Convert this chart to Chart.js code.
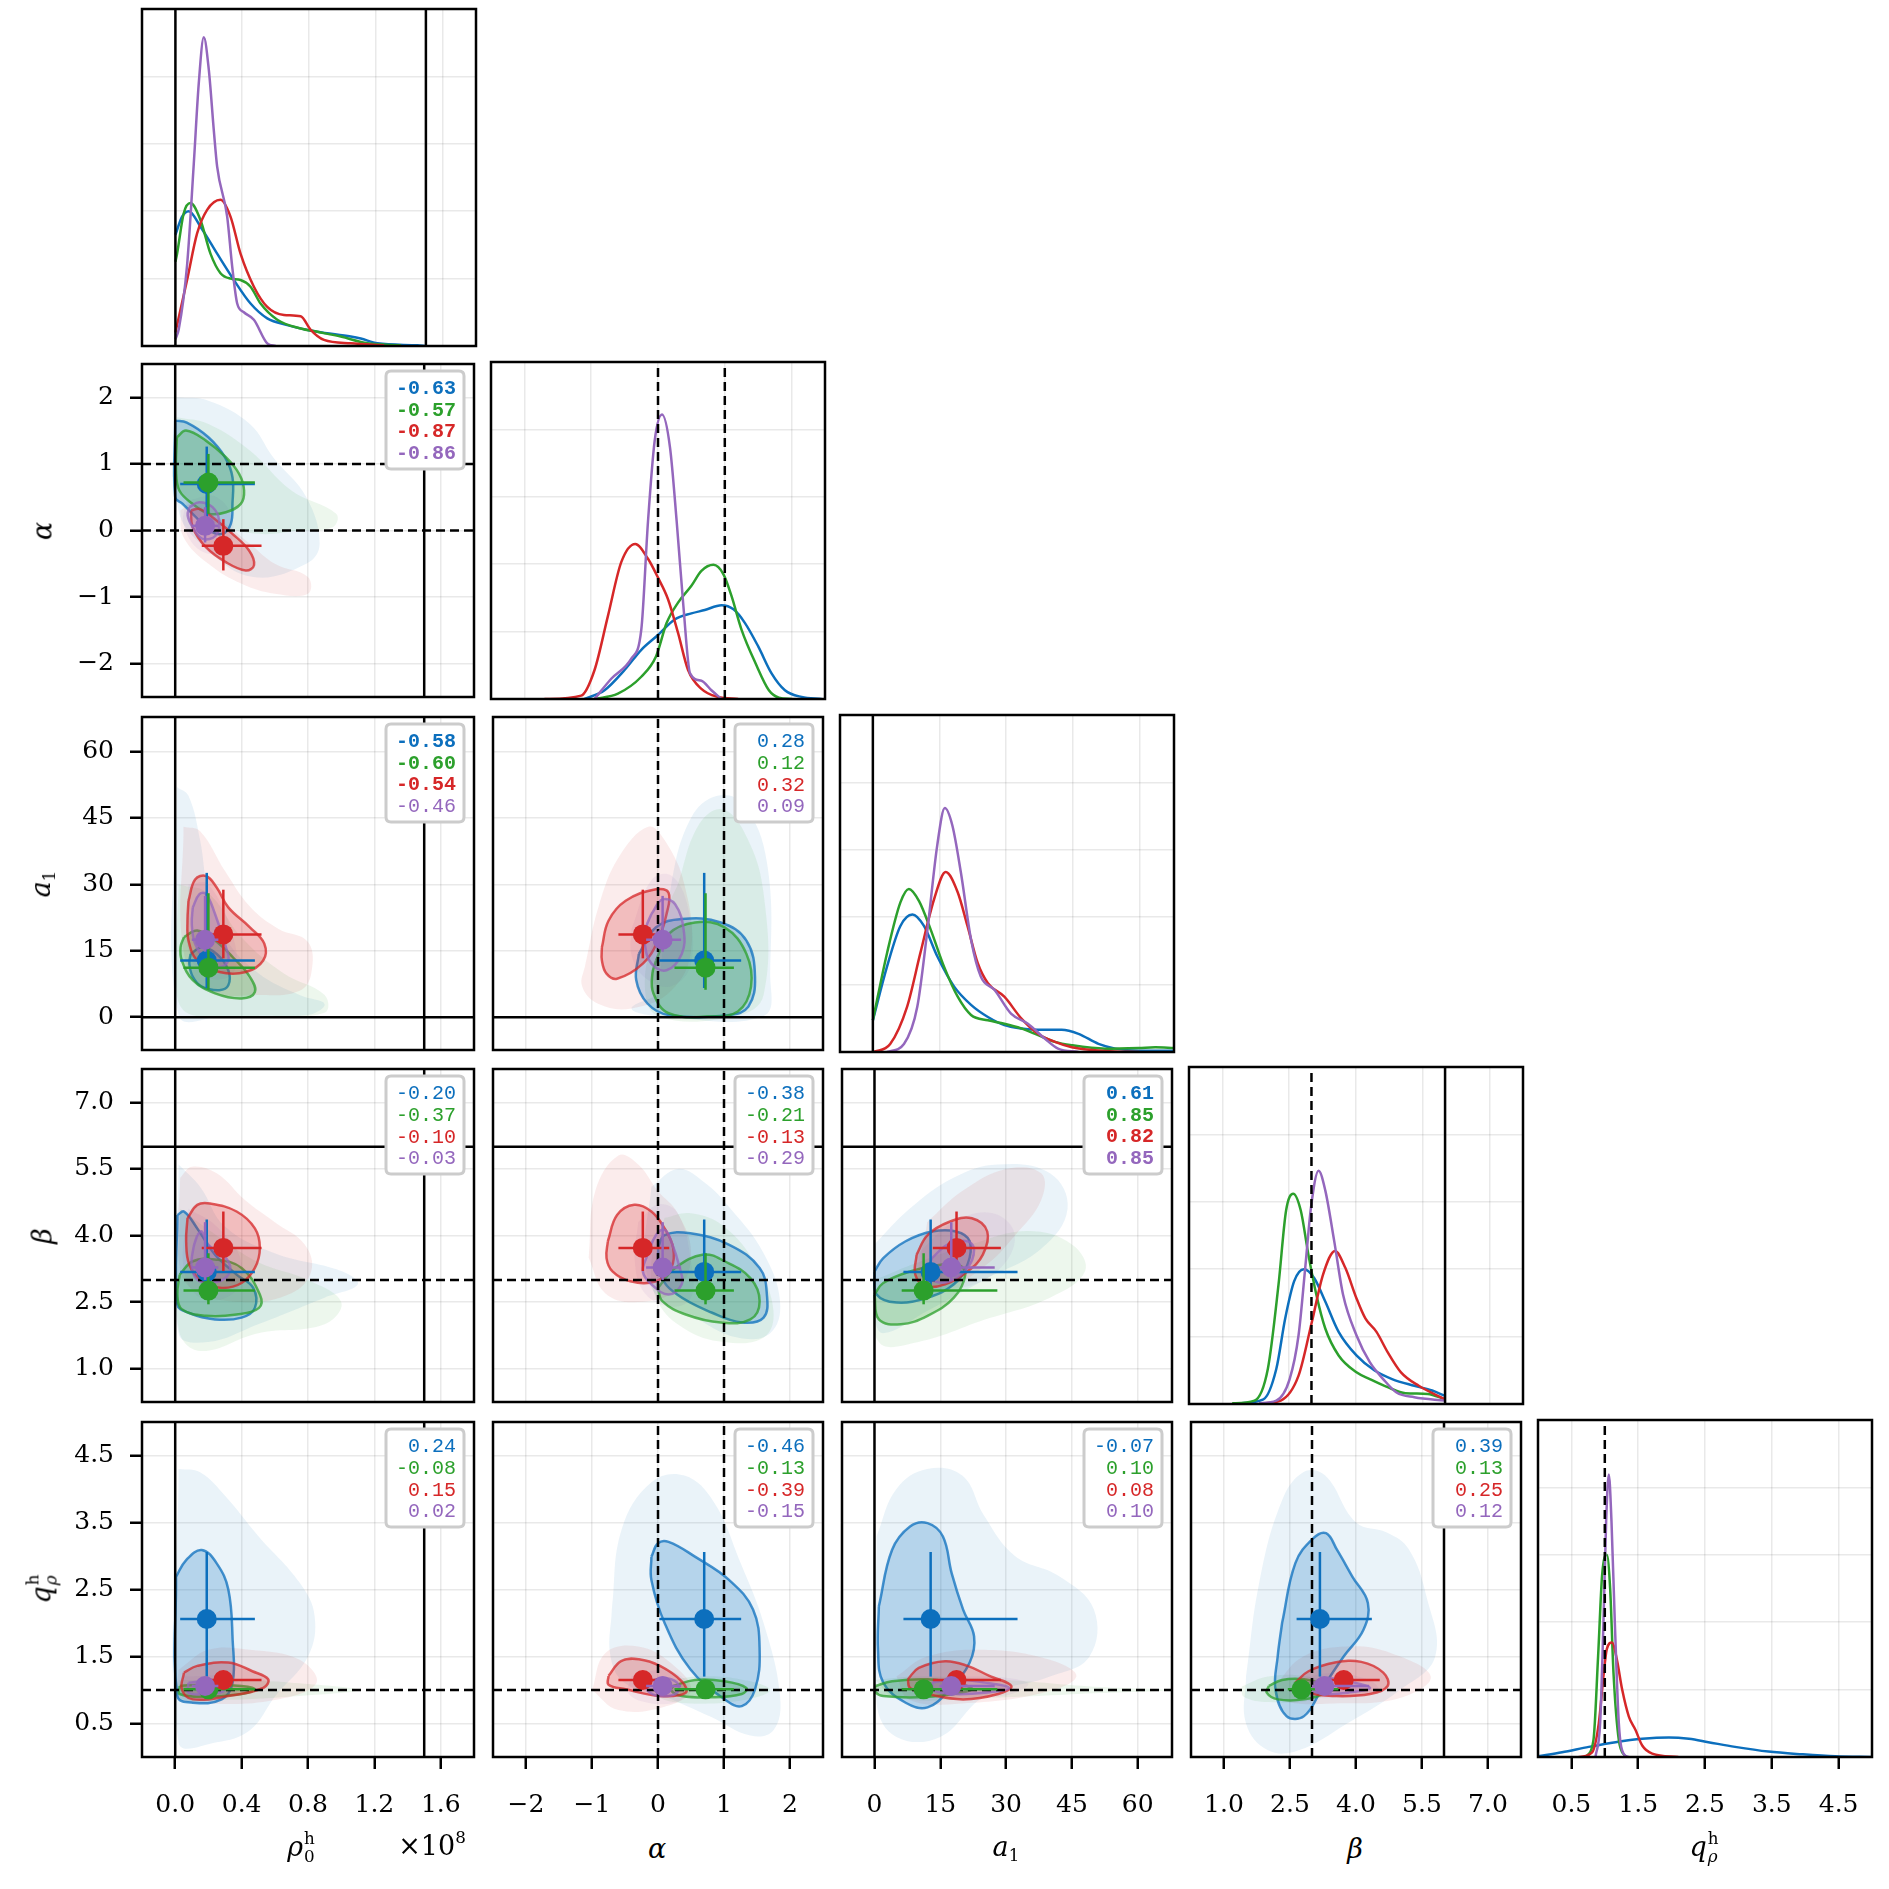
<!DOCTYPE html>
<html>
<head>
<meta charset="utf-8">
<script src="https://cdn.jsdelivr.net/npm/chart.js@4.4.1/dist/chart.umd.min.js"></script>
<style>
  body { margin: 0; background: #fff; }
  #fig { position: relative; width: 1889px; height: 1889px; overflow: hidden; background: #fff; }
  #fig canvas { position: absolute; }
  .lab { position: absolute; font-family: 'DejaVu Serif', serif; font-size: 27px; white-space: nowrap;
         transform: translate(-50%, -50%); color: #000; }
  .ylab { transform: translate(-50%, -50%) rotate(-90deg); }
  .lab sub { font-size: 0.62em; vertical-align: -0.3em; font-style: normal; }
  .lab sup { font-size: 0.62em; vertical-align: 0.7em; }
  .ss { display: inline-flex; flex-direction: column; font-size: 0.62em; line-height: 1.05;
        vertical-align: 0.72em; margin-left: 1px; font-style: normal; }
</style>
</head>
<body>
<div id="fig"></div>
<script>
// ---- data ----
// series order everywhere: blue, green, red, purple
const colors = ['#0c6fbd', '#2ca02c', '#d62728', '#9467bd'];

// parameters: rho0 (x1e8), alpha, a1, beta, q_rho
const axisMin = [-0.2, -2.5, -7.4, 0.25, 0];
const axisMax = [1.8, 2.5, 67.8, 7.75, 5];
const tickVals = [[0, 0.4, 0.8, 1.2, 1.6], [-2, -1, 0, 1, 2], [0, 15, 30, 45, 60], [1, 2.5, 4, 5.5, 7], [0.5, 1.5, 2.5, 3.5, 4.5]];
const tickLabels = [['0.0', '0.4', '0.8', '1.2', '1.6'], ['\u22122', '\u22121', '0', '1', '2'], ['0', '15', '30', '45', '60'],
  ['1.0', '2.5', '4.0', '5.5', '7.0'], ['0.5', '1.5', '2.5', '3.5', '4.5']];
const solidRefs = [[0, 1.5], [], [0], [6], []];
const dashedRefs = [[], [0, 1], [], [3], [1]];

// medians and error bar ends
const medRho = [0.19, 0.20, 0.29, 0.18];
const loRho = [0.03, 0.05, 0.16, 0.10];
const hiRho = [0.48, 0.48, 0.52, 0.26];
const medAlpha = [0.70, 0.72, -0.23, 0.07];
const loAlpha = [0.02, 0.25, -0.60, -0.18];
const hiAlpha = [1.26, 1.15, 0.17, 0.35];
const medA1 = [12.8, 11.2, 18.7, 17.5];
const loA1 = [6.6, 6.2, 13.3, 14.8];
const hiA1 = [32.6, 28.0, 28.8, 27.4];
const medBeta = [3.18, 2.76, 3.72, 3.28];
const loBeta = [2.65, 2.45, 3.2, 3.0];
const hiBeta = [4.36, 3.6, 4.54, 4.3];
const medQ = [2.06, 1.01, 1.15, 1.06];
const loQ = [1.2, 0.96, 1.02, 1.0];
const hiQ = [3.06, 1.07, 1.28, 1.12];

// 1d densities on the diagonal
const kdeRho = [
  [[0, 1.65], [0.04, 1.92], [0.08, 2.0], [0.15, 1.77], [0.25, 1.37], [0.35, 0.98], [0.45, 0.63], [0.55, 0.41], [0.67, 0.31], [0.85, 0.21], [1.05, 0.14], [1.11, 0.11], [1.21, 0.04], [1.45, 0.01], [1.5, 0]],
  [[0, 1.25], [0.01, 1.37], [0.05, 1.97], [0.09, 2.12], [0.15, 1.87], [0.21, 1.37], [0.27, 1.08], [0.33, 1.0], [0.39, 0.98], [0.45, 0.88], [0.51, 0.63], [0.61, 0.39], [0.75, 0.26], [0.85, 0.21], [0.99, 0.14], [1.15, 0.04], [1.35, 0.01]],
  [[0, 0.2], [0.07, 0.98], [0.13, 1.67], [0.19, 2.02], [0.27, 2.17], [0.33, 1.92], [0.39, 1.37], [0.47, 0.88], [0.55, 0.58], [0.65, 0.46], [0.75, 0.44], [0.81, 0.24], [0.89, 0.09], [1.05, 0.04], [1.25, 0.01]],
  [[0, 0.1], [0.02, 0.25], [0.07, 1.2], [0.11, 2.7], [0.14, 3.9], [0.17, 4.58], [0.2, 4.1], [0.23, 3.2], [0.25, 2.66], [0.31, 1.92], [0.34, 1.18], [0.37, 0.63], [0.41, 0.5], [0.47, 0.39], [0.55, 0.04], [0.6, 0]]
];
const kdeAlpha = [
  [[-1.1, 0], [-0.8, 0.13], [-0.5, 0.43], [-0.25, 0.73], [0, 0.95], [0.25, 1.18], [0.5, 1.27], [0.7, 1.32], [0.95, 1.39], [1.13, 1.33], [1.3, 1.13], [1.5, 0.78], [1.7, 0.38], [1.9, 0.13], [2.15, 0.03], [2.45, 0]],
  [[-0.95, 0], [-0.6, 0.08], [-0.25, 0.33], [-0.03, 0.63], [0.13, 1.13], [0.3, 1.43], [0.5, 1.68], [0.65, 1.9], [0.83, 1.99], [0.98, 1.85], [1.1, 1.53], [1.25, 1.03], [1.46, 0.53], [1.66, 0.13], [1.81, 0.02], [2.0, 0]],
  [[-1.7, 0], [-1.15, 0.05], [-0.95, 0.43], [-0.75, 1.23], [-0.55, 2.03], [-0.34, 2.3], [-0.15, 2.08], [0, 1.8], [0.15, 1.48], [0.3, 0.98], [0.45, 0.43], [0.65, 0.15], [0.9, 0.03], [1.2, 0]],
  [[-0.95, 0], [-0.7, 0.3], [-0.4, 0.6], [-0.25, 1.03], [-0.15, 2.63], [-0.05, 3.83], [0.06, 4.22], [0.18, 3.73], [0.28, 2.63], [0.38, 1.38], [0.48, 0.38], [0.65, 0.27], [0.8, 0.13], [0.95, 0]]
];
const kdeA1 = [
  [[0, 0.47], [3.2, 1.27], [6.2, 1.87], [8.9, 2.04], [11.5, 1.87], [14.5, 1.42], [18.3, 0.97], [22.1, 0.7], [25.9, 0.52], [29.6, 0.4], [33.4, 0.35], [37.2, 0.33], [42.5, 0.33], [46.3, 0.27], [50.8, 0.12], [54.6, 0.05], [60, 0.02], [67.8, 0.02]],
  [[0, 0.47], [3.2, 1.47], [6.2, 2.22], [8.1, 2.42], [10.4, 2.24], [13, 1.82], [16, 1.27], [19.1, 0.82], [22.1, 0.55], [25.9, 0.47], [29.6, 0.42], [33.4, 0.35], [37.2, 0.25], [41, 0.15], [44.8, 0.1], [52.3, 0.05], [59.9, 0.06], [63.6, 0.07], [67.8, 0.06]],
  [[0.1, 0], [3.9, 0.12], [7.7, 0.67], [10.7, 1.47], [13.8, 2.27], [16.4, 2.67], [19.1, 2.37], [21.3, 1.87], [23.6, 1.32], [25.9, 1.02], [29.6, 0.82], [33.4, 0.5], [37.2, 0.27], [41, 0.15], [44.8, 0.07], [52.3, 0.015], [60, 0]],
  [[3.2, 0], [7, 0.12], [10, 0.67], [12.3, 1.82], [14.5, 3.07], [16.2, 3.62], [17.9, 3.36], [19.8, 2.67], [22.1, 1.67], [24.3, 1.12], [27.4, 0.92], [31.1, 0.57], [34.9, 0.42], [38.7, 0.2], [41.7, 0.05], [46.3, 0]]
];
const kdeBeta = [
  [[1.32, 0.01], [1.92, 0.07], [2.21, 0.52], [2.41, 1.27], [2.61, 1.82], [2.83, 2.0], [3.06, 1.87], [3.31, 1.52], [3.61, 1.07], [4.01, 0.72], [4.41, 0.5], [4.81, 0.37], [5.31, 0.27], [5.71, 0.2], [6.0, 0.12]],
  [[1.22, 0.01], [1.72, 0.05], [2.02, 0.52], [2.26, 1.77], [2.43, 2.87], [2.59, 3.12], [2.76, 2.87], [2.93, 2.22], [3.11, 1.62], [3.31, 1.12], [3.61, 0.72], [4.01, 0.47], [4.31, 0.37], [4.71, 0.25], [5.11, 0.16], [5.61, 0.15], [6.0, 0.07]],
  [[1.92, 0.01], [2.31, 0.05], [2.71, 0.42], [3.01, 1.22], [3.26, 1.92], [3.53, 2.27], [3.76, 2.02], [4.01, 1.57], [4.21, 1.27], [4.46, 1.07], [4.71, 0.77], [5.01, 0.47], [5.41, 0.27], [6.0, 0.07]],
  [[1.82, 0.01], [2.21, 0.05], [2.51, 0.37], [2.71, 1.02], [2.86, 2.02], [2.99, 2.92], [3.16, 3.46], [3.31, 3.17], [3.51, 2.42], [3.71, 1.62], [4.01, 1.02], [4.31, 0.62], [4.61, 0.37], [4.91, 0.17], [5.31, 0.1], [6.0, 0.05]]
];
const kdeQ = [
  [[0, 0.01], [0.36, 0.07], [0.76, 0.15], [1.16, 0.22], [1.56, 0.27], [1.96, 0.29], [2.26, 0.27], [2.55, 0.22], [2.95, 0.15], [3.45, 0.08], [3.95, 0.04], [4.45, 0.01], [5, 0]],
  [[0.71, 0], [0.83, 0.25], [0.9, 1.5], [0.96, 2.7], [1.03, 3.0], [1.08, 2.5], [1.13, 1.25], [1.21, 0.25], [1.31, 0]],
  [[0.61, 0], [0.81, 0.07], [0.91, 0.5], [0.98, 1.2], [1.03, 1.6], [1.11, 1.7], [1.18, 1.45], [1.26, 1.0], [1.36, 0.6], [1.46, 0.4], [1.56, 0.17], [1.71, 0.05], [2.1, 0]],
  [[0.86, 0], [0.93, 0.5], [0.98, 2.0], [1.02, 3.5], [1.06, 4.19], [1.1, 3.5], [1.15, 2.0], [1.21, 0.5], [1.28, 0.05], [1.36, 0]]
];

// 2d contours: inner level (outlined) and faint outer level, per panel (row param vs column param)
const inner10 = [
  [[0, 1.65], [0.07, 1.62], [0.2, 1.4], [0.3, 1.1], [0.345, 0.8], [0.345, 0.4], [0.335, 0.1], [0.285, -0.05], [0.205, 0], [0.125, 0.2], [0.045, 0.4], [0, 0.5]],
  [[0.01, 1.4], [0.065, 1.5], [0.185, 1.35], [0.305, 1.1], [0.385, 0.85], [0.415, 0.6], [0.395, 0.4], [0.305, 0.275], [0.205, 0.25], [0.105, 0.4], [0.025, 0.6], [0.005, 0.9]],
  [[0.095, 0.3], [0.145, 0.325], [0.225, 0.2], [0.345, -0.05], [0.445, -0.3], [0.475, -0.52], [0.425, -0.6], [0.305, -0.475], [0.185, -0.25], [0.105, 0.05]],
  [[0.085, 0.35], [0.145, 0.425], [0.225, 0.35], [0.265, 0.15], [0.245, -0.075], [0.165, -0.125], [0.105, 0.05], [0.075, 0.225]]
];
const outer10 = [
  [[0.01, 2.0], [0.2, 1.95], [0.45, 1.6], [0.59, 1.1], [0.79, 0.5], [0.87, -0.2], [0.79, -0.5], [0.47, -0.7], [0.2, -0.3], [0.02, 0.3]],
  [[0.01, 1.7], [0.2, 1.6], [0.45, 1.2], [0.7, 0.6], [0.97, 0.25], [0.95, 0.05], [0.75, 0.0], [0.5, -0.05], [0.25, 0.1], [0.01, 0.5]],
  [[0.03, 0.3], [0.1, 0.4], [0.25, 0.2], [0.45, -0.2], [0.6, -0.5], [0.8, -0.7], [0.8, -0.95], [0.6, -0.95], [0.4, -0.8], [0.2, -0.5], [0.05, -0.1]],
  [[0.07, 0.45], [0.25, 0.5], [0.35, 0.1], [0.3, -0.3], [0.15, -0.3], [0.05, 0.1]]
];
const inner20 = [
  [[0.093, 14.3], [0.16, 15.8], [0.25, 14.3], [0.32, 10.6], [0.32, 7.2], [0.266, 6.1], [0.16, 6.9], [0.106, 9.1], [0.085, 12.1]],
  [[0.053, 18.1], [0.133, 19.6], [0.24, 17.3], [0.346, 13.6], [0.45, 9.1], [0.48, 5.7], [0.4, 4.25], [0.24, 5.4], [0.106, 8.4], [0.04, 12.8], [0.032, 15.8]],
  [[0.08, 26.3], [0.12, 31.1], [0.186, 31.9], [0.25, 29.3], [0.32, 24.8], [0.45, 20.3], [0.537, 16.6], [0.53, 12.8], [0.425, 10.2], [0.266, 10.2], [0.133, 12.8], [0.08, 17.3], [0.074, 21.8]],
  [[0.106, 24.8], [0.146, 27.8], [0.186, 27.8], [0.24, 23.3], [0.306, 15.8], [0.32, 12.8], [0.266, 11.3], [0.186, 12.8], [0.12, 16.6], [0.1, 21.0]]
];
const outer20 = [
  [[0.01, 52], [0.08, 50], [0.15, 40], [0.2, 28], [0.3, 18], [0.5, 10], [0.75, 5], [0.9, 3], [0.8, 0.5], [0.3, 0.3], [0.02, 0.5]],
  [[0.02, 30], [0.2, 28], [0.4, 18], [0.65, 10], [0.9, 5], [0.9, 1], [0.5, 0.3], [0.1, 0.5], [0.01, 5]],
  [[0.05, 43], [0.15, 42], [0.3, 33], [0.45, 25], [0.62, 20], [0.8, 17], [0.82, 10], [0.75, 6], [0.5, 5], [0.2, 6], [0.05, 15]],
  [[0.08, 30], [0.2, 30], [0.35, 18], [0.35, 10], [0.2, 9], [0.08, 15]]
];
const inner21 = [
  [[-0.29, 14.3], [-0.03, 20.3], [0.36, 22.2], [0.95, 21.4], [1.34, 17.3], [1.47, 9.1], [1.37, 2.4], [1.08, 0.5], [0.16, 0.5], [-0.16, 3.1], [-0.33, 8.4]],
  [[-0.03, 12.8], [0.16, 18.8], [0.56, 21.4], [1.01, 20.3], [1.34, 14.3], [1.41, 6.9], [1.21, 1.3], [0.75, 0.15], [0.16, 0.9], [-0.07, 5.4], [-0.085, 9.85]],
  [[-0.85, 15.8], [-0.75, 21.8], [-0.49, 26.3], [-0.03, 28.9], [0.16, 28.1], [0.13, 23.3], [0, 17.3], [-0.23, 12.1], [-0.62, 8.7], [-0.78, 9.85], [-0.85, 12.8]],
  [[-0.1, 23.3], [0.065, 26.6], [0.26, 25.5], [0.39, 19.6], [0.36, 14.3], [0.13, 10.6], [-0.1, 12.1], [-0.2, 16.6], [-0.18, 20.3]]
];
const outer21 = [
  [[0, 5], [0.2, 30], [0.5, 45], [0.9, 50], [1.3, 48], [1.65, 35], [1.7, 10], [1.6, 0.3], [0, 0.3], [-0.4, 2]],
  [[0.3, 30], [0.6, 43], [0.95, 47], [1.3, 42], [1.6, 28], [1.6, 5], [1.2, 0.3], [0, 0.3], [-0.2, 8], [0, 20]],
  [[-1.1, 12], [-0.9, 25], [-0.6, 36], [-0.15, 43], [0.1, 40], [0.4, 30], [0.5, 15], [0.2, 6], [-0.4, 2], [-0.9, 3], [-1.15, 7]],
  [[-0.4, 20], [-0.1, 31], [0.2, 32], [0.45, 25], [0.5, 12], [0.2, 7], [-0.2, 9], [-0.4, 14]]
];
const inner30 = [
  [[0.013, 4.46], [0.053, 4.54], [0.133, 4.16], [0.24, 3.57], [0.37, 3.12], [0.47, 2.82], [0.48, 2.37], [0.4, 2.15], [0.24, 2.11], [0.08, 2.26], [0.013, 2.45]],
  [[0.027, 3.12], [0.106, 3.42], [0.24, 3.46], [0.4, 3.27], [0.51, 2.67], [0.505, 2.37], [0.37, 2.22], [0.186, 2.19], [0.04, 2.34], [0.013, 2.67]],
  [[0.074, 4.39], [0.133, 4.69], [0.21, 4.72], [0.37, 4.54], [0.48, 4.16], [0.51, 3.72], [0.48, 3.27], [0.4, 2.93], [0.28, 2.82], [0.16, 2.97], [0.085, 3.34], [0.066, 3.87]],
  [[0.133, 4.01], [0.16, 4.09], [0.2, 3.79], [0.306, 3.49], [0.33, 3.19], [0.266, 2.97], [0.146, 2.97], [0.1, 3.27], [0.11, 3.72]]
];
const outer30 = [
  [[0.02, 5.6], [0.15, 5.1], [0.3, 4.2], [0.6, 3.6], [1.0, 3.2], [1.1, 2.9], [0.9, 2.6], [0.5, 2.0], [0.2, 1.6], [0.02, 1.8]],
  [[0.03, 4.6], [0.25, 4.0], [0.5, 3.4], [0.8, 3.0], [1.0, 2.5], [0.9, 2.0], [0.5, 1.8], [0.15, 1.4], [0.02, 1.9]],
  [[0.03, 5.3], [0.1, 5.55], [0.25, 5.4], [0.42, 4.8], [0.6, 4.3], [0.78, 3.8], [0.82, 3.2], [0.7, 2.7], [0.4, 2.5], [0.1, 2.8], [0.02, 3.5]],
  [[0.08, 4.6], [0.25, 4.2], [0.4, 3.4], [0.35, 2.7], [0.15, 2.6], [0.05, 3.3]]
];
const inner31 = [
  [[0, 3.72], [0.1, 4.01], [0.49, 4.05], [1.08, 3.79], [1.54, 3.27], [1.65, 2.67], [1.6, 2.15], [1.27, 2.04], [0.82, 2.26], [0.29, 2.67], [0.03, 3.12]],
  [[0, 2.82], [0.26, 3.27], [0.69, 3.57], [1.01, 3.42], [1.4, 3.04], [1.54, 2.52], [1.4, 2.11], [0.95, 2.04], [0.42, 2.22], [0.065, 2.52]],
  [[-0.76, 3.87], [-0.62, 4.46], [-0.36, 4.69], [-0.1, 4.54], [0.1, 4.16], [0.23, 3.72], [0.2, 3.27], [-0.03, 2.97], [-0.42, 2.97], [-0.69, 3.19], [-0.78, 3.49]],
  [[-0.16, 3.57], [-0.03, 4.01], [0.1, 4.13], [0.2, 3.87], [0.33, 3.27], [0.36, 2.9], [0.16, 2.67], [-0.1, 2.9], [-0.23, 3.19]]
];
const outer31 = [
  [[-0.1, 5.1], [0.3, 5.5], [0.7, 5.2], [1.1, 4.6], [1.6, 3.6], [1.85, 2.5], [1.7, 1.8], [1.2, 1.7], [0.5, 2.2], [0, 2.6], [-0.2, 3.5]],
  [[0.1, 4.4], [0.5, 4.5], [1.0, 4.2], [1.5, 3.3], [1.75, 2.3], [1.6, 1.7], [1.0, 1.6], [0.4, 1.9], [0, 2.5], [-0.1, 3.4]],
  [[-1.05, 3.5], [-0.95, 5.0], [-0.6, 5.8], [-0.3, 5.6], [0, 5.0], [0.3, 4.5], [0.5, 3.6], [0.3, 2.8], [-0.3, 2.5], [-0.8, 2.7]],
  [[-0.3, 4.3], [0, 4.7], [0.3, 4.5], [0.5, 3.4], [0.5, 2.6], [0.2, 2.4], [-0.2, 2.7], [-0.35, 3.4]]
];
const inner32 = [
  [[0, 3.19], [2, 3.49], [7.1, 3.87], [13.1, 4.09], [18.6, 4.09], [21.7, 3.87], [21.2, 3.34], [18.1, 2.9], [12.1, 2.6], [5, 2.49], [0.5, 2.67]],
  [[0, 2.67], [2, 2.93], [8.1, 3.19], [15.1, 3.34], [19.2, 3.34], [20.7, 3.12], [18.1, 2.6], [12.1, 2.19], [6, 2.0], [1, 2.11]],
  [[9.6, 3.57], [12.1, 4.01], [17.1, 4.31], [22.2, 4.39], [25.7, 4.09], [24.7, 3.57], [21.2, 3.19], [16.1, 2.9], [11.6, 2.86], [9.3, 3.12]],
  [[13.1, 3.49], [16.6, 3.79], [21.2, 3.87], [22.7, 3.68], [21.2, 3.27], [17.1, 2.97], [13.6, 2.97], [12.1, 3.19]]
];
const outer32 = [
  [[0, 3.8], [8, 4.6], [18, 5.3], [28, 5.6], [40, 5.4], [44, 4.6], [38, 3.7], [25, 3.0], [12, 2.3], [2, 1.8], [0, 2.2]],
  [[0, 3.0], [10, 3.4], [22, 3.8], [35, 4.1], [45, 3.8], [48, 3.2], [40, 2.6], [25, 2.1], [10, 1.6], [1, 1.6]],
  [[12, 4.3], [20, 5.0], [30, 5.5], [38, 5.4], [38, 4.8], [32, 4.0], [25, 3.3], [17, 2.9], [11, 3.3]],
  [[10, 3.6], [18, 4.3], [27, 4.5], [32, 4.0], [28, 3.2], [18, 2.8], [11, 3.0]]
];
const inner40 = [
  [[0.005, 2.69], [0.066, 2.94], [0.16, 3.09], [0.25, 2.89], [0.32, 2.5], [0.346, 1.75], [0.346, 1.11], [0.28, 0.86], [0.106, 0.81], [0.013, 0.91]],
  [[0.027, 1.06], [0.186, 1.08], [0.4, 1.06], [0.48, 1.01], [0.4, 0.94], [0.186, 0.9], [0.027, 0.94]],
  [[0.053, 1.26], [0.133, 1.36], [0.32, 1.41], [0.465, 1.28], [0.56, 1.16], [0.53, 1.03], [0.32, 0.91], [0.106, 0.86], [0.04, 1.01]],
  [[0.08, 1.11], [0.186, 1.13], [0.29, 1.08], [0.29, 0.98], [0.186, 0.94], [0.08, 0.96]]
];
const outer40 = [
  [[0.02, 4.3], [0.15, 4.25], [0.3, 3.9], [0.5, 3.3], [0.75, 2.6], [0.84, 2.1], [0.8, 1.5], [0.6, 0.9], [0.45, 0.4], [0.25, 0.22], [0.02, 0.22]],
  [[0.02, 1.15], [0.4, 1.15], [0.75, 1.1], [1.1, 1.0], [0.8, 0.92], [0.3, 0.85], [0.02, 0.88]],
  [[0.02, 1.3], [0.2, 1.6], [0.45, 1.6], [0.75, 1.45], [0.85, 1.1], [0.6, 0.85], [0.2, 0.8], [0.02, 0.9]],
  [[0.05, 1.2], [0.3, 1.2], [0.4, 1.05], [0.3, 0.9], [0.05, 0.9]]
];
const inner41 = [
  [[-0.1, 2.99], [0, 3.19], [0.16, 3.21], [0.56, 2.99], [1.08, 2.64], [1.44, 2.2], [1.54, 1.6], [1.47, 1.01], [1.27, 0.76], [1.01, 0.86], [0.49, 1.31], [0.1, 2.0], [-0.1, 2.64]],
  [[0.23, 1.06], [0.56, 1.15], [1.01, 1.13], [1.34, 1.03], [1.27, 0.94], [0.82, 0.89], [0.36, 0.91], [0.2, 0.99]],
  [[-0.75, 1.21], [-0.56, 1.43], [-0.29, 1.46], [0.03, 1.36], [0.36, 1.13], [0.42, 0.96], [0.03, 0.91], [-0.49, 1.01], [-0.75, 1.08]],
  [[-0.16, 1.11], [0.065, 1.18], [0.29, 1.11], [0.29, 0.96], [0.03, 0.91], [-0.16, 0.99]]
];
const outer41 = [
  [[-0.7, 2.2], [-0.55, 3.4], [-0.1, 4.1], [0.4, 4.2], [0.85, 3.8], [1.25, 2.9], [1.6, 2.0], [1.85, 0.9], [1.75, 0.4], [1.4, 0.32], [0.8, 0.6], [0.1, 0.9], [-0.5, 1.1], [-0.72, 1.5]],
  [[0, 1.1], [0.6, 1.2], [1.3, 1.15], [1.7, 1.0], [1.3, 0.85], [0.5, 0.8], [0, 0.9]],
  [[-1.0, 1.0], [-0.8, 1.55], [-0.3, 1.65], [0.2, 1.4], [0.5, 1.0], [0.1, 0.75], [-0.6, 0.7]],
  [[-0.4, 1.2], [0.1, 1.3], [0.45, 1.1], [0.35, 0.85], [-0.1, 0.8], [-0.45, 0.95]]
];
const inner42 = [
  [[1, 2.25], [4, 3.09], [8.1, 3.44], [12.1, 3.49], [15.6, 3.29], [17.6, 2.74], [20.2, 2.2], [22.7, 1.8], [21.7, 1.41], [17.1, 1.01], [12.1, 0.74], [7.1, 0.81], [2, 1.11], [0.8, 1.6]],
  [[0.2, 1.06], [4, 1.13], [12.1, 1.16], [20.2, 1.08], [22.2, 1.01], [18.1, 0.94], [10.1, 0.89], [2, 0.91], [0.2, 0.97]],
  [[7.6, 1.16], [10.1, 1.33], [16.1, 1.43], [21.2, 1.36], [26.2, 1.21], [31.2, 1.06], [28.2, 0.94], [20.2, 0.86], [12.1, 0.94], [8.1, 1.03]],
  [[13.1, 1.11], [18.1, 1.16], [25.2, 1.11], [30.7, 1.03], [25.2, 0.96], [18.1, 0.94], [13.6, 0.99]]
];
const outer42 = [
  [[0.5, 3.3], [5, 4.0], [12, 4.3], [20, 4.2], [25, 3.6], [32, 3.0], [42, 2.7], [50, 2.2], [49, 1.5], [40, 1.2], [25, 0.9], [15, 0.3], [5, 0.3], [0.5, 0.8]],
  [[0.2, 1.15], [10, 1.2], [30, 1.15], [50, 1.05], [67, 1.0], [50, 0.95], [25, 0.88], [5, 0.88]],
  [[5, 1.2], [12, 1.5], [25, 1.6], [40, 1.45], [46, 1.2], [38, 0.95], [20, 0.8], [8, 0.85]],
  [[10, 1.15], [25, 1.2], [35, 1.1], [30, 0.92], [15, 0.92]]
];
const inner43 = [
  [[2.32, 2.0], [2.62, 2.89], [3.02, 3.26], [3.32, 3.34], [3.57, 3.09], [3.92, 2.69], [4.27, 2.3], [4.17, 1.9], [3.72, 1.5], [3.22, 1.01], [2.82, 0.61], [2.42, 0.61], [2.17, 1.01], [2.22, 1.5]],
  [[2.02, 1.06], [2.32, 1.15], [2.82, 1.16], [3.22, 1.08], [3.27, 0.96], [2.82, 0.86], [2.22, 0.86], [1.97, 0.96]],
  [[2.62, 1.11], [2.92, 1.28], [3.52, 1.41], [4.12, 1.42], [4.62, 1.26], [4.72, 1.06], [4.32, 0.94], [3.52, 0.91], [2.92, 0.96]],
  [[3.02, 1.11], [3.32, 1.18], [3.82, 1.13], [4.32, 1.03], [3.82, 0.96], [3.32, 0.94], [3.02, 0.99]]
];
const outer43 = [
  [[1.5, 1.2], [1.8, 2.6], [2.3, 3.8], [2.8, 4.25], [3.3, 4.2], [4.0, 3.5], [4.7, 3.35], [5.2, 3.1], [5.6, 2.4], [5.8, 1.5], [5.0, 1.0], [3.8, 0.5], [2.7, 0.1], [2.0, 0.1], [1.5, 0.5]],
  [[1.4, 1.05], [2.0, 1.2], [2.9, 1.2], [3.5, 1.05], [3.0, 0.85], [2.0, 0.82], [1.45, 0.9]],
  [[2.2, 1.1], [2.8, 1.5], [3.8, 1.65], [4.8, 1.55], [5.7, 1.2], [5.0, 0.88], [3.5, 0.8], [2.3, 0.85]],
  [[2.7, 1.15], [3.4, 1.25], [4.3, 1.15], [4.5, 1.0], [3.8, 0.9], [2.9, 0.92]]
];

// correlation coefficients shown in the boxes
const corr10 = ['-0.63', '-0.57', '-0.87', '-0.86'];
const corr20 = ['-0.58', '-0.60', '-0.54', '-0.46'];
const corr21 = ['0.28', '0.12', '0.32', '0.09'];
const corr30 = ['-0.20', '-0.37', '-0.10', '-0.03'];
const corr31 = ['-0.38', '-0.21', '-0.13', '-0.29'];
const corr32 = ['0.61', '0.85', '0.82', '0.85'];
const corr40 = ['0.24', '-0.08', '0.15', '0.02'];
const corr41 = ['-0.46', '-0.13', '-0.39', '-0.15'];
const corr42 = ['-0.07', '0.10', '0.08', '0.10'];
const corr43 = ['0.39', '0.13', '0.25', '0.12'];

// ---- lookups built from the arrays above ----
const med = [medRho, medAlpha, medA1, medBeta, medQ];
const lo = [loRho, loAlpha, loA1, loBeta, loQ];
const hi = [hiRho, hiAlpha, hiA1, hiBeta, hiQ];
const kde = [kdeRho, kdeAlpha, kdeA1, kdeBeta, kdeQ];
const inner = { '10': inner10, '20': inner20, '21': inner21, '30': inner30, '31': inner31, '32': inner32, '40': inner40, '41': inner41, '42': inner42, '43': inner43 };
const outer = { '10': outer10, '20': outer20, '21': outer21, '30': outer30, '31': outer31, '32': outer32, '40': outer40, '41': outer41, '42': outer42, '43': outer43 };
const corr = { '10': corr10, '20': corr20, '21': corr21, '30': corr30, '31': corr31, '32': corr32, '40': corr40, '41': corr41, '42': corr42, '43': corr43 };

// ---- layout ----
const COLX = [142, 491, 840, 1189, 1538];
const ROWY = [9, 362, 715, 1067, 1420];
const PW = 334, PH = 337, M = 8, BOTTOM_EXTRA = 75;
const GRID = 'rgba(0,0,0,0.085)';
const tickFont = { family: 'DejaVu Serif', size: 25 };

const rgba = (hex, a) => {
  const n = parseInt(hex.slice(1), 16);
  return `rgba(${(n >> 16) & 255}, ${(n >> 8) & 255}, ${n & 255}, ${a})`;
};
const pts = (arr) => arr.map(p => ({ x: p[0], y: p[1] }));
const closed = (arr) => pts(arr.concat([arr[0]]));

const framePlugin = {
  id: 'frame',
  afterDatasetsDraw(chart, args, opts) {
    const lines = opts.corr;
    if (!lines) return;
    const { ctx, chartArea: a } = chart;
    const bw = 78, bh = 98, bx = a.right - 10 - bw, by = a.top + 7, rad = 5;
    ctx.save();
    ctx.beginPath();
    ctx.moveTo(bx + rad, by);
    ctx.lineTo(bx + bw - rad, by);
    ctx.quadraticCurveTo(bx + bw, by, bx + bw, by + rad);
    ctx.lineTo(bx + bw, by + bh - rad);
    ctx.quadraticCurveTo(bx + bw, by + bh, bx + bw - rad, by + bh);
    ctx.lineTo(bx + rad, by + bh);
    ctx.quadraticCurveTo(bx, by + bh, bx, by + bh - rad);
    ctx.lineTo(bx, by + rad);
    ctx.quadraticCurveTo(bx, by, bx + rad, by);
    ctx.closePath();
    ctx.fillStyle = '#fff';
    ctx.fill();
    ctx.lineWidth = 3;
    ctx.strokeStyle = '#cccccc';
    ctx.stroke();
    ctx.textAlign = 'right';
    ctx.textBaseline = 'middle';
    lines.forEach((t, i) => {
      const bold = Math.abs(parseFloat(t)) >= 0.5;
      ctx.font = (bold ? 'bold ' : '') + '20px "Liberation Mono"';
      ctx.fillStyle = colors[i];
      ctx.fillText(t, bx + bw - 8, by + 18 + i * 21.7);
    });
    ctx.restore();
  },
  afterDraw(chart) {
    const { ctx, chartArea: a } = chart;
    ctx.save();
    ctx.lineWidth = 2.5;
    ctx.strokeStyle = '#000';
    ctx.strokeRect(a.left, a.top, a.right - a.left, a.bottom - a.top);
    ctx.restore();
  }
};

function refLine(data, dashed) {
  return {
    type: 'line', data: data, borderColor: '#000', borderWidth: 2.5,
    borderDash: dashed ? [9, 5] : [], pointRadius: 0, fill: false, tension: 0
  };
}

function buildPanel(r, c) {
  const diag = r === c;
  const isLeft = c === 0 && !diag;
  const isBottom = r === 4;
  const x0 = isLeft ? 0 : COLX[c] - M;
  const y0 = ROWY[r] - M;
  const x1 = COLX[c] + PW + M;
  const y1 = ROWY[r] + PH + (isBottom ? BOTTOM_EXTRA : M);
  const ymin = diag ? 0 : axisMin[r];
  const ymax = diag ? 5 : axisMax[r];
  const key = '' + r + c;

  const layers = []; // bottom to top
  if (diag) {
    kde[c].forEach((k, i) => layers.push({
      type: 'line', data: pts(k), borderColor: colors[i], borderWidth: 2.5,
      pointRadius: 0, fill: false, cubicInterpolationMode: 'monotone'
    }));
  } else {
    outer[key].forEach((p, i) => layers.push({
      type: 'line', data: closed(p), borderColor: 'rgba(0,0,0,0)', borderWidth: 1,
      backgroundColor: rgba(colors[i], 0.085), fill: 'shape', tension: 0.4, pointRadius: 0
    }));
    inner[key].forEach((p, i) => layers.push({
      type: 'line', data: closed(p), borderColor: rgba(colors[i], 0.75), borderWidth: 2.5,
      backgroundColor: rgba(colors[i], 0.24), fill: 'shape', tension: 0.4, pointRadius: 0
    }));
  }
  solidRefs[c].forEach(v => layers.push(refLine([{ x: v, y: ymin }, { x: v, y: ymax }], false)));
  dashedRefs[c].forEach(v => layers.push(refLine([{ x: v, y: ymin }, { x: v, y: ymax }], true)));
  if (!diag) {
    solidRefs[r].forEach(v => layers.push(refLine([{ x: axisMin[c], y: v }, { x: axisMax[c], y: v }], false)));
    dashedRefs[r].forEach(v => layers.push(refLine([{ x: axisMin[c], y: v }, { x: axisMax[c], y: v }], true)));
    for (let i = 0; i < 4; i++) {
      layers.push({
        type: 'line', data: [{ x: lo[c][i], y: med[r][i] }, { x: hi[c][i], y: med[r][i] }],
        borderColor: colors[i], borderWidth: 2.5, pointRadius: 0, fill: false
      });
      layers.push({
        type: 'line', data: [{ x: med[c][i], y: lo[r][i] }, { x: med[c][i], y: hi[r][i] }],
        borderColor: colors[i], borderWidth: 2.5, pointRadius: 0, fill: false
      });
      layers.push({
        type: 'scatter', data: [{ x: med[c][i], y: med[r][i] }],
        backgroundColor: colors[i], borderWidth: 0, pointRadius: 10, pointHoverRadius: 10
      });
    }
  }

  const cv = document.createElement('canvas');
  cv.width = x1 - x0;
  cv.height = y1 - y0;
  cv.style.left = x0 + 'px';
  cv.style.top = y0 + 'px';
  cv.style.width = (x1 - x0) + 'px';
  cv.style.height = (y1 - y0) + 'px';
  document.getElementById('fig').appendChild(cv);

  const yTicks = diag ? [0, 1, 2, 3, 4, 5] : tickVals[r];
  new Chart(cv, {
    type: 'scatter',
    data: { datasets: layers.reverse() },
    options: {
      responsive: false,
      animation: false,
      devicePixelRatio: 1,
      events: [],
      layout: { padding: { left: isLeft ? 0 : M, right: M, top: M, bottom: isBottom ? 0 : M } },
      plugins: { legend: { display: false }, tooltip: { enabled: false }, frame: { corr: diag ? null : corr[key] } },
      scales: {
        x: {
          type: 'linear', min: axisMin[c], max: axisMax[c],
          afterBuildTicks: ax => { ax.ticks = tickVals[c].map(v => ({ value: v })); },
          afterFit: ax => {
            ax.height = isBottom ? BOTTOM_EXTRA : 0;
            ax.paddingLeft = 0; ax.paddingRight = 0; ax.paddingTop = 0; ax.paddingBottom = 0;
          },
          ticks: {
            display: isBottom, autoSkip: false, maxRotation: 0, padding: 21, color: '#000', font: tickFont,
            callback: (v, i) => tickLabels[c][i]
          },
          grid: { color: GRID, lineWidth: 1.5, drawTicks: isBottom, tickLength: 12, tickColor: '#000', tickWidth: 2.5 },
          border: { display: false }
        },
        y: {
          type: 'linear', min: ymin, max: ymax,
          afterBuildTicks: ax => { ax.ticks = yTicks.map(v => ({ value: v })); },
          afterFit: ax => {
            ax.width = isLeft ? COLX[0] : 0;
            ax.paddingLeft = 0; ax.paddingRight = 0; ax.paddingTop = 0; ax.paddingBottom = 0;
          },
          ticks: {
            display: isLeft, autoSkip: false, padding: 16, color: '#000', font: tickFont,
            callback: (v, i) => diag ? '' : tickLabels[r][i]
          },
          grid: { color: GRID, lineWidth: 1.5, drawTicks: isLeft, tickLength: 12, tickColor: '#000', tickWidth: 2.5 },
          border: { display: false }
        }
      }
    },
    plugins: [framePlugin]
  });
}

for (let r = 0; r < 5; r++) {
  for (let c = 0; c <= r; c++) buildPanel(r, c);
}

// ---- axis titles ----
const ss = (sup, sub) => `<span class="ss"><span>${sup}</span><span>${sub}</span></span>`;
const titles = ['<i>\u03c1</i>' + ss('h', '0'), '<i>\u03b1</i>', '<i>a</i><sub>1</sub>', '<i>\u03b2</i>', '<i>q</i>' + ss('h', '<i>\u03c1</i>')];
const fig = document.getElementById('fig');
function addLabel(html, x, y, cls) {
  const d = document.createElement('div');
  d.className = 'lab ' + (cls || '');
  d.innerHTML = html;
  d.style.left = x + 'px';
  d.style.top = y + 'px';
  fig.appendChild(d);
}
const xTitleX = [301, 657, 1006, 1355, 1704];
titles.forEach((t, i) => addLabel(t, xTitleX[i], 1848));
addLabel('\u00d710<sup>8</sup>', 432, 1844);
for (let r = 1; r < 5; r++) addLabel(titles[r], 42, ROWY[r] + PH / 2, 'ylab');
</script>
</body>
</html>
